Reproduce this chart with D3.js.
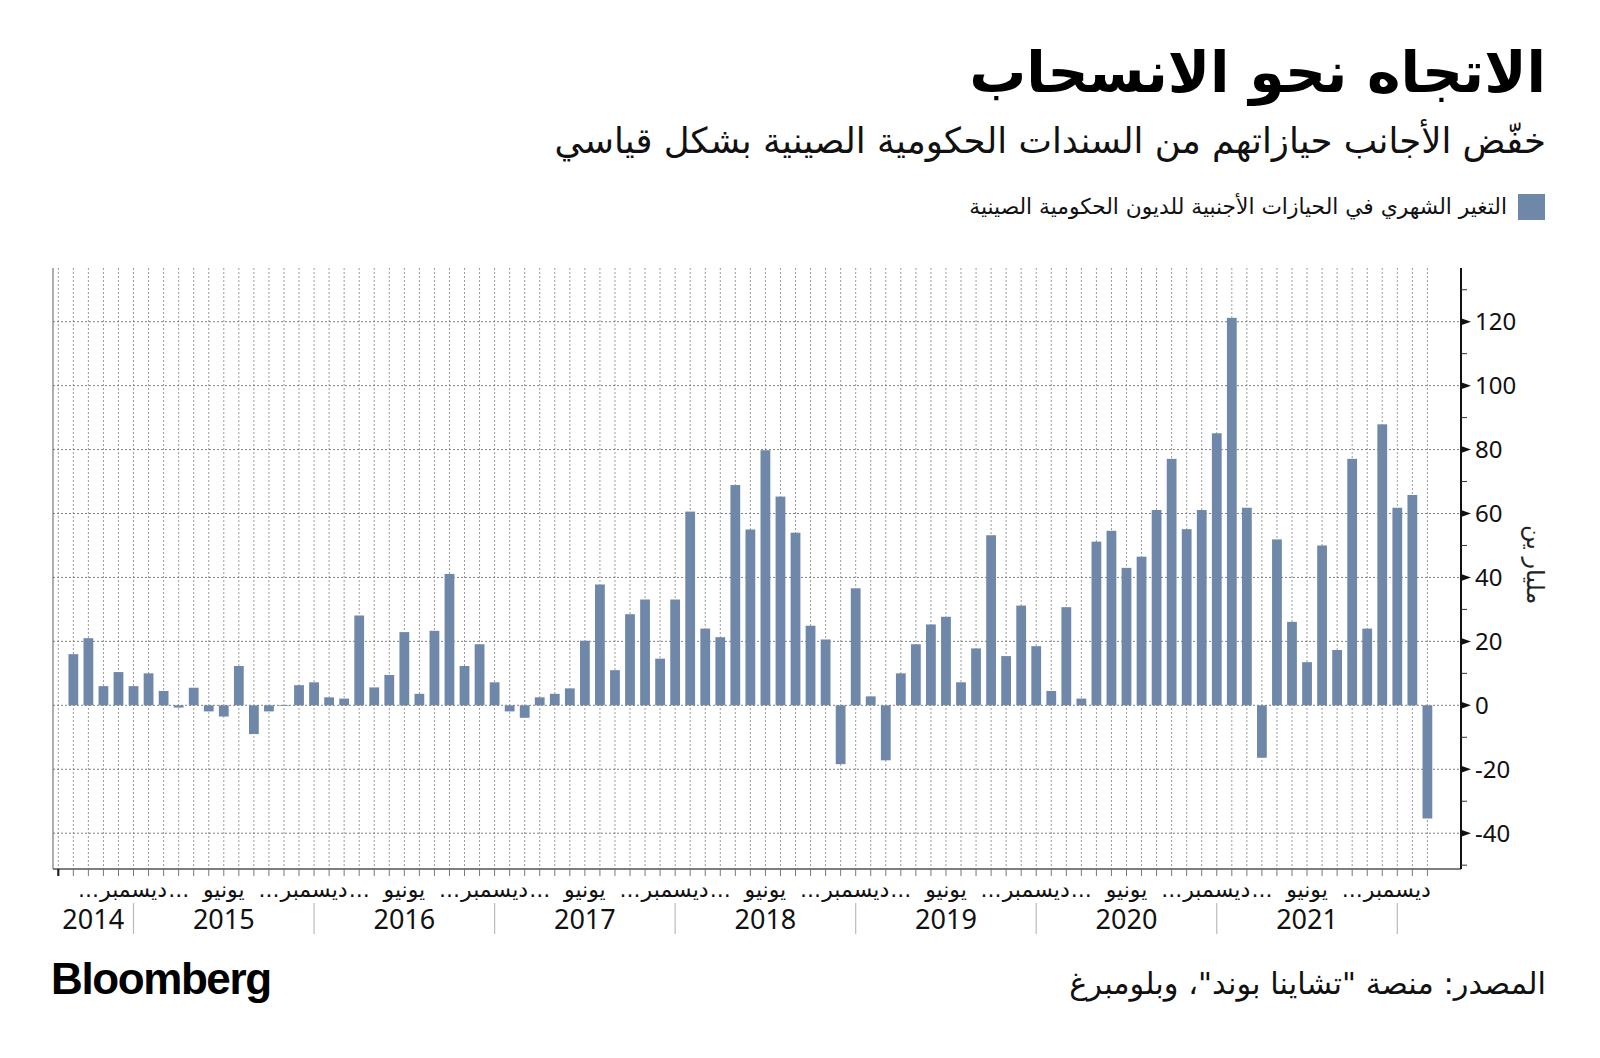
<!DOCTYPE html>
<html><head><meta charset="utf-8">
<script src="https://cdn.jsdelivr.net/npm/d3@7"></script>
<style>body{margin:0;background:#fff;} svg{display:block}</style>
</head><body>
<svg id="chart" width="1600" height="1058"></svg>
<script>
// ---------------- DATA ----------------
const months = [
  "2014-08","2014-09","2014-10","2014-11","2014-12",
  "2015-01","2015-02","2015-03","2015-04","2015-05","2015-06","2015-07","2015-08","2015-09","2015-10","2015-11","2015-12",
  "2016-01","2016-02","2016-03","2016-04","2016-05","2016-06","2016-07","2016-08","2016-09","2016-10","2016-11","2016-12",
  "2017-01","2017-02","2017-03","2017-04","2017-05","2017-06","2017-07","2017-08","2017-09","2017-10","2017-11","2017-12",
  "2018-01","2018-02","2018-03","2018-04","2018-05","2018-06","2018-07","2018-08","2018-09","2018-10","2018-11","2018-12",
  "2019-01","2019-02","2019-03","2019-04","2019-05","2019-06","2019-07","2019-08","2019-09","2019-10","2019-11","2019-12",
  "2020-01","2020-02","2020-03","2020-04","2020-05","2020-06","2020-07","2020-08","2020-09","2020-10","2020-11","2020-12",
  "2021-01","2021-02","2021-03","2021-04","2021-05","2021-06","2021-07","2021-08","2021-09","2021-10","2021-11","2021-12",
  "2022-01","2022-02"
];
const values = [
  16.0, 21.0, 6.0, 10.4, 6.0,
  10.0, 4.5, -0.7, 5.5, -1.9, -3.5, 12.3, -9.0, -1.9, -0.2, 6.3, 7.2,
  2.5, 2.1, 28.1, 5.6, 9.5, 22.9, 3.6, 23.3, 41.1, 12.3, 19.1, 7.2,
  -1.9, -3.9, 2.5, 3.6, 5.3, 20.2, 37.8, 11.0, 28.5, 33.1, 14.6, 33.1,
  60.6, 24.0, 21.3, 68.9, 55.0, 79.8, 65.3, 54.0, 24.9, 20.6, -18.4, 36.6,
  2.8, -17.2, 10.0, 19.1, 25.3, 27.7, 7.2, 17.8, 53.2, 15.4, 31.2, 18.5,
  4.5, 30.7, 2.1, 51.2, 54.6, 43.0, 46.5, 61.1, 77.1, 55.1, 61.1, 85.1,
  121.2, 61.8, -16.4, 51.9, 26.1, 13.5, 50.0, 17.3, 77.1, 24.0, 87.9, 61.8,
  65.8, -35.4
];
const leadingSlot = "2014-07";           // empty first slot on the axis
const years = ["2014","2015","2016","2017","2018","2019","2020","2021"];
const labelMonthKeys  = ["03","06","09","12"];
const labelMonthTexts = ["...","يونيو","...","ديسمبر"];
const yMajorTicks = [-40,-20,0,20,40,60,80,100,120];
const yMinorTicks = [-50,-30,-10,10,30,50,70,90,110,130];
const yDomain = [-51.2, 136.8];

const titleText = "الاتجاه نحو الانسحاب";
const subtitleText = "خفّض الأجانب حيازاتهم من السندات الحكومية الصينية بشكل قياسي";
const legendText = "التغير الشهري في الحيازات الأجنبية للديون الحكومية الصينية";
const yAxisTitle = "مليار ين";
const sourceText = "المصدر: منصة \"تشاينا بوند\"، وبلومبرغ";
const brandText = "Bloomberg";

// ---------------- LAYOUT ----------------
const svg = d3.select("#chart");
const plot = {left: 53, right: 1461, top: 268, bottom: 869};
const barColor = "#6f87a8";
const arabicFont = "'DejaVu Sans', sans-serif";
const numFont = "'Noto Sans', 'DejaVu Sans', sans-serif";

const x = d3.scalePoint().domain([leadingSlot, ...months]).range([58.3, 1427.4]);
const step = x.step();
const barW = step * 0.65;
const y = d3.scaleLinear().domain(yDomain).range([plot.bottom, plot.top]);

function fit(sel, w) {
  const n = sel.node();
  const cur = n.getComputedTextLength();
  const fs = parseFloat(sel.attr("font-size"));
  sel.attr("font-size", fs * w / cur);
  return sel;
}

// vertical grid (each month slot)
svg.append("g").selectAll("line").data(x.domain()).join("line")
  .attr("x1", d => x(d)).attr("x2", d => x(d))
  .attr("y1", plot.top).attr("y2", plot.bottom)
  .attr("stroke", "#9a9a9a").attr("stroke-width", 1).attr("stroke-dasharray", "2,2");

// horizontal grid
svg.append("g").selectAll("line").data(yMajorTicks).join("line")
  .attr("x1", plot.left).attr("x2", plot.right)
  .attr("y1", d => y(d)).attr("y2", d => y(d))
  .attr("stroke", "#808080").attr("stroke-width", 1).attr("stroke-dasharray", "2,2");

// bars
svg.append("g").selectAll("rect").data(months).join("rect")
  .attr("x", (d) => x(d) - barW / 2)
  .attr("width", barW)
  .attr("y", (d, i) => y(Math.max(0, values[i])))
  .attr("height", (d, i) => Math.abs(y(values[i]) - y(0)))
  .attr("fill", barColor);

// left axis line
svg.append("line").attr("x1", plot.left).attr("x2", plot.left)
  .attr("y1", plot.top).attr("y2", plot.bottom)
  .attr("stroke", "#777").attr("stroke-width", 1.2);

// bottom axis
svg.append("line").attr("x1", plot.left).attr("x2", plot.right)
  .attr("y1", plot.bottom).attr("y2", plot.bottom)
  .attr("stroke", "#555").attr("stroke-width", 1.5);
svg.append("g").selectAll("line").data(x.domain()).join("line")
  .attr("x1", d => x(d)).attr("x2", d => x(d))
  .attr("y1", plot.bottom).attr("y2", plot.bottom + 7)
  .attr("stroke", (d, i) => i === 0 ? "#222" : "#777")
  .attr("stroke-width", (d, i) => i === 0 ? 2.2 : 1);

// right axis
svg.append("line").attr("x1", plot.right).attr("x2", plot.right)
  .attr("y1", plot.top).attr("y2", plot.bottom)
  .attr("stroke", "#111").attr("stroke-width", 2);
svg.append("g").selectAll("line").data(yMinorTicks).join("line")
  .attr("x1", plot.right).attr("x2", plot.right + 6)
  .attr("y1", d => y(d)).attr("y2", d => y(d))
  .attr("stroke", "#333").attr("stroke-width", 1);
svg.append("g").selectAll("path").data(yMajorTicks).join("path")
  .attr("d", d => `M${plot.right},${y(d) - 3.5} L${plot.right + 10},${y(d)} L${plot.right},${y(d) + 3.5} Z`)
  .attr("fill", "#111");
svg.append("g").selectAll("text").data(yMajorTicks).join("text")
  .attr("x", plot.right + 14).attr("y", d => y(d)).attr("dy", "0.36em")
  .attr("font-family", numFont).attr("font-size", 24).attr("fill", "#111")
  .text(d => d);

// y axis title
svg.append("text")
  .attr("transform", `translate(1527,${y(44)}) rotate(90)`)
  .attr("text-anchor", "middle")
  .attr("font-family", arabicFont).attr("font-size", 24).attr("fill", "#222")
  .text(yAxisTitle);

// month labels
const labelled = months.filter(m => labelMonthKeys.includes(m.slice(5)));
svg.append("g").selectAll("text").data(labelled).join("text")
  .attr("x", d => x(d)).attr("y", 897)
  .attr("text-anchor", "middle")
  .attr("font-family", arabicFont).attr("font-size", 22).attr("fill", "#111")
  .text(d => labelMonthTexts[labelMonthKeys.indexOf(d.slice(5))]);

// year separators and labels
svg.append("g").selectAll("line").data(years).join("line")
  .attr("x1", d => x(d + "-12")).attr("x2", d => x(d + "-12"))
  .attr("y1", 903).attr("y2", 934)
  .attr("stroke", "#bbb").attr("stroke-width", 1.2);
svg.append("g").selectAll("text").data(years).join("text")
  .attr("x", (d, i) => ((i === 0 ? plot.left : x(years[i - 1] + "-12")) + x(d + "-12")) / 2)
  .attr("y", 929)
  .attr("text-anchor", "middle")
  .attr("font-family", numFont).attr("font-size", 27).attr("fill", "#111")
  .text(d => d);

// title block
const title = svg.append("text").attr("x", 1546).attr("y", 92)
  .attr("direction", "rtl").attr("text-anchor", "start")
  .attr("font-family", arabicFont).attr("font-weight", "bold").attr("font-size", 60)
  .attr("fill", "#000").text(titleText);
fit(title, 577);
const sub = svg.append("text").attr("x", 1546).attr("y", 153)
  .attr("direction", "rtl").attr("text-anchor", "start")
  .attr("font-family", arabicFont).attr("font-size", 34)
  .attr("fill", "#111").text(subtitleText);
fit(sub, 992);

// legend
svg.append("rect").attr("x", 1518).attr("y", 194).attr("width", 27).attr("height", 26).attr("fill", barColor);
const leg = svg.append("text").attr("x", 1507).attr("y", 214)
  .attr("direction", "rtl").attr("text-anchor", "start")
  .attr("font-family", arabicFont).attr("font-size", 20)
  .attr("fill", "#111").text(legendText);
fit(leg, 538);

// footer
svg.append("text").attr("x", 51).attr("y", 994)
  .attr("font-family", "'Liberation Sans', Arial, sans-serif").attr("font-weight", "bold")
  .attr("font-size", 44).attr("letter-spacing", -1.4).attr("fill", "#000").text(brandText);
const src = svg.append("text").attr("x", 1546).attr("y", 994)
  .attr("direction", "rtl").attr("text-anchor", "start")
  .attr("font-family", arabicFont).attr("font-size", 26)
  .attr("fill", "#111").text(sourceText);
fit(src, 477);
</script>
</body></html>
